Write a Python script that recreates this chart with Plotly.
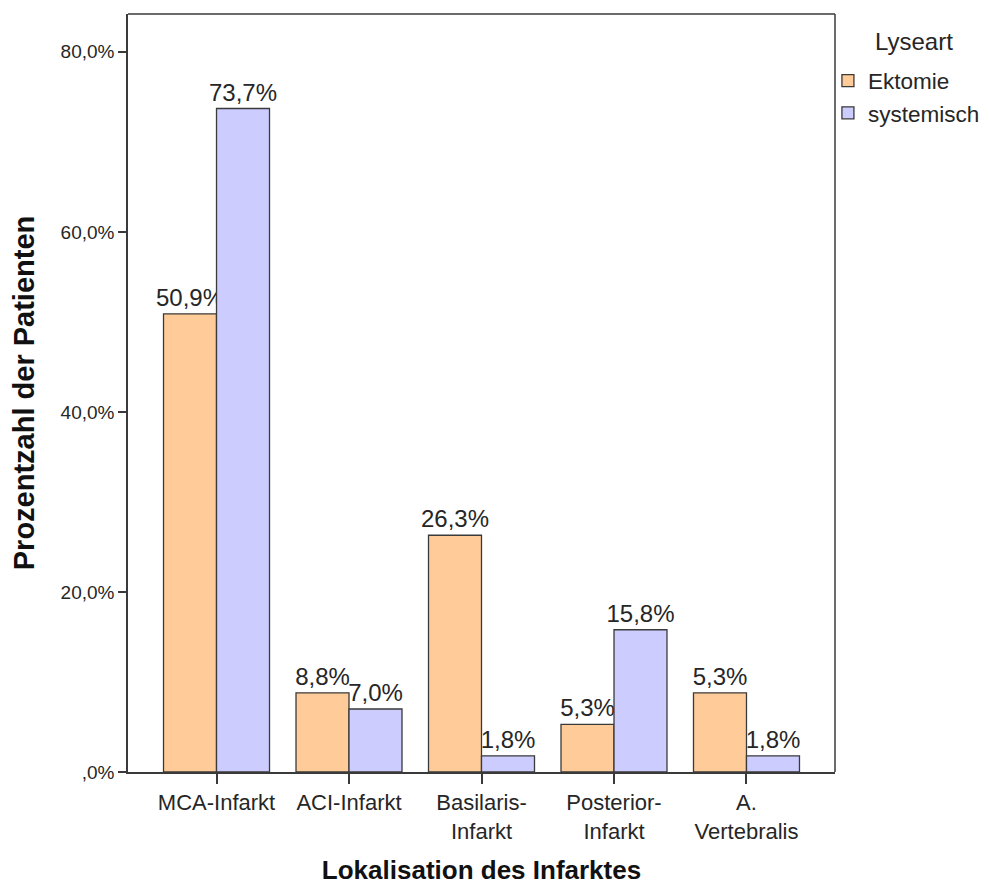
import plotly.graph_objects as go

categories = ["MCA-Infarkt", "ACI-Infarkt", "Basilaris-<br>Infarkt", "Posterior-<br>Infarkt", "A.<br>Vertebralis"]
ektomie = [50.9, 8.8, 26.3, 5.3, 8.8]
ektomie_labels = ["50,9%", "8,8%", "26,3%", "5,3%", "5,3%"]
systemisch = [73.7, 7.0, 1.8, 15.8, 1.8]
systemisch_labels = ["73,7%", "7,0%", "1,8%", "15,8%", "1,8%"]
y_ticks = [0, 20, 40, 60, 80]
y_ticktext = [",0%", "20,0%", "40,0%", "60,0%", "80,0%"]
legend_title = "Lyseart"

FONT = "Liberation Sans, Arial, sans-serif"
TXT = "#262626"
LINE = "#3a3a3a"

fig = go.Figure()
fig.add_trace(go.Bar(
    x=categories, y=ektomie, name="Ektomie", legendgroup="a",
    text=ektomie_labels, textposition="outside", cliponaxis=False,
    constraintext="none",
    textfont=dict(family=FONT, size=24, color=TXT),
    marker=dict(color="#FFCC99", line=dict(color=LINE, width=1.3)),
))
fig.add_trace(go.Bar(
    x=categories, y=systemisch, name="systemisch", legendgroup="b",
    text=systemisch_labels, textposition="outside", cliponaxis=False,
    constraintext="none",
    textfont=dict(family=FONT, size=24, color=TXT),
    marker=dict(color="#CCCCFF", line=dict(color=LINE, width=1.3)),
))

fig.update_layout(
    width=981, height=877,
    margin=dict(l=120, r=154, t=6, b=113, autoexpand=False),
    paper_bgcolor="white", plot_bgcolor="white",
    barmode="group", bargap=0.2, bargroupgap=0,
    font=dict(family=FONT, color=TXT),
    showlegend=True,
    legend=dict(
        font=dict(size=22.5, family=FONT, color=TXT),
        x=0.99, xanchor="left", y=0.94, yanchor="top",
        itemwidth=30, tracegroupgap=0,
        bgcolor="rgba(0,0,0,0)",
    ),
    annotations=[dict(
        text=legend_title, xref="paper", yref="paper",
        x=1.112, y=0.964, xanchor="center", yanchor="middle",
        showarrow=False, font=dict(size=24, family=FONT, color=TXT),
    )],
)

fig.update_xaxes(
    range=[-0.668, 4.668],
    showline=True, linecolor=LINE, linewidth=1.5, mirror=False,
    ticks="outside", ticklen=10, tickcolor=LINE, tickwidth=1.5,
    tickfont=dict(size=22, family=FONT, color=TXT),
    title=dict(text="<b>Lokalisation des Infarktes</b>",
               font=dict(size=26, family=FONT, color="#111111"), standoff=22),
    showgrid=False,
)
fig.update_yaxes(
    range=[0, 84.2],
    tickvals=y_ticks, ticktext=y_ticktext,
    showline=True, linecolor=LINE, linewidth=1.5, mirror=False,
    ticks="outside", ticklen=8, tickcolor=LINE, tickwidth=1.5,
    tickfont=dict(size=19, family=FONT, color=TXT),
    title=dict(text="<b>Prozentzahl der Patienten</b>",
               font=dict(size=29, family=FONT, color="#111111"), standoff=18),
    showgrid=False, zeroline=False,
)

# top and right frame lines of the plot area
fig.add_shape(type="line", xref="paper", yref="paper", x0=0, x1=1, y0=1, y1=1,
              line=dict(color=LINE, width=1.5))
fig.add_shape(type="line", xref="paper", yref="paper", x0=1, x1=1, y0=0, y1=1,
              line=dict(color=LINE, width=1.5))

fig.write_html("out.html")
